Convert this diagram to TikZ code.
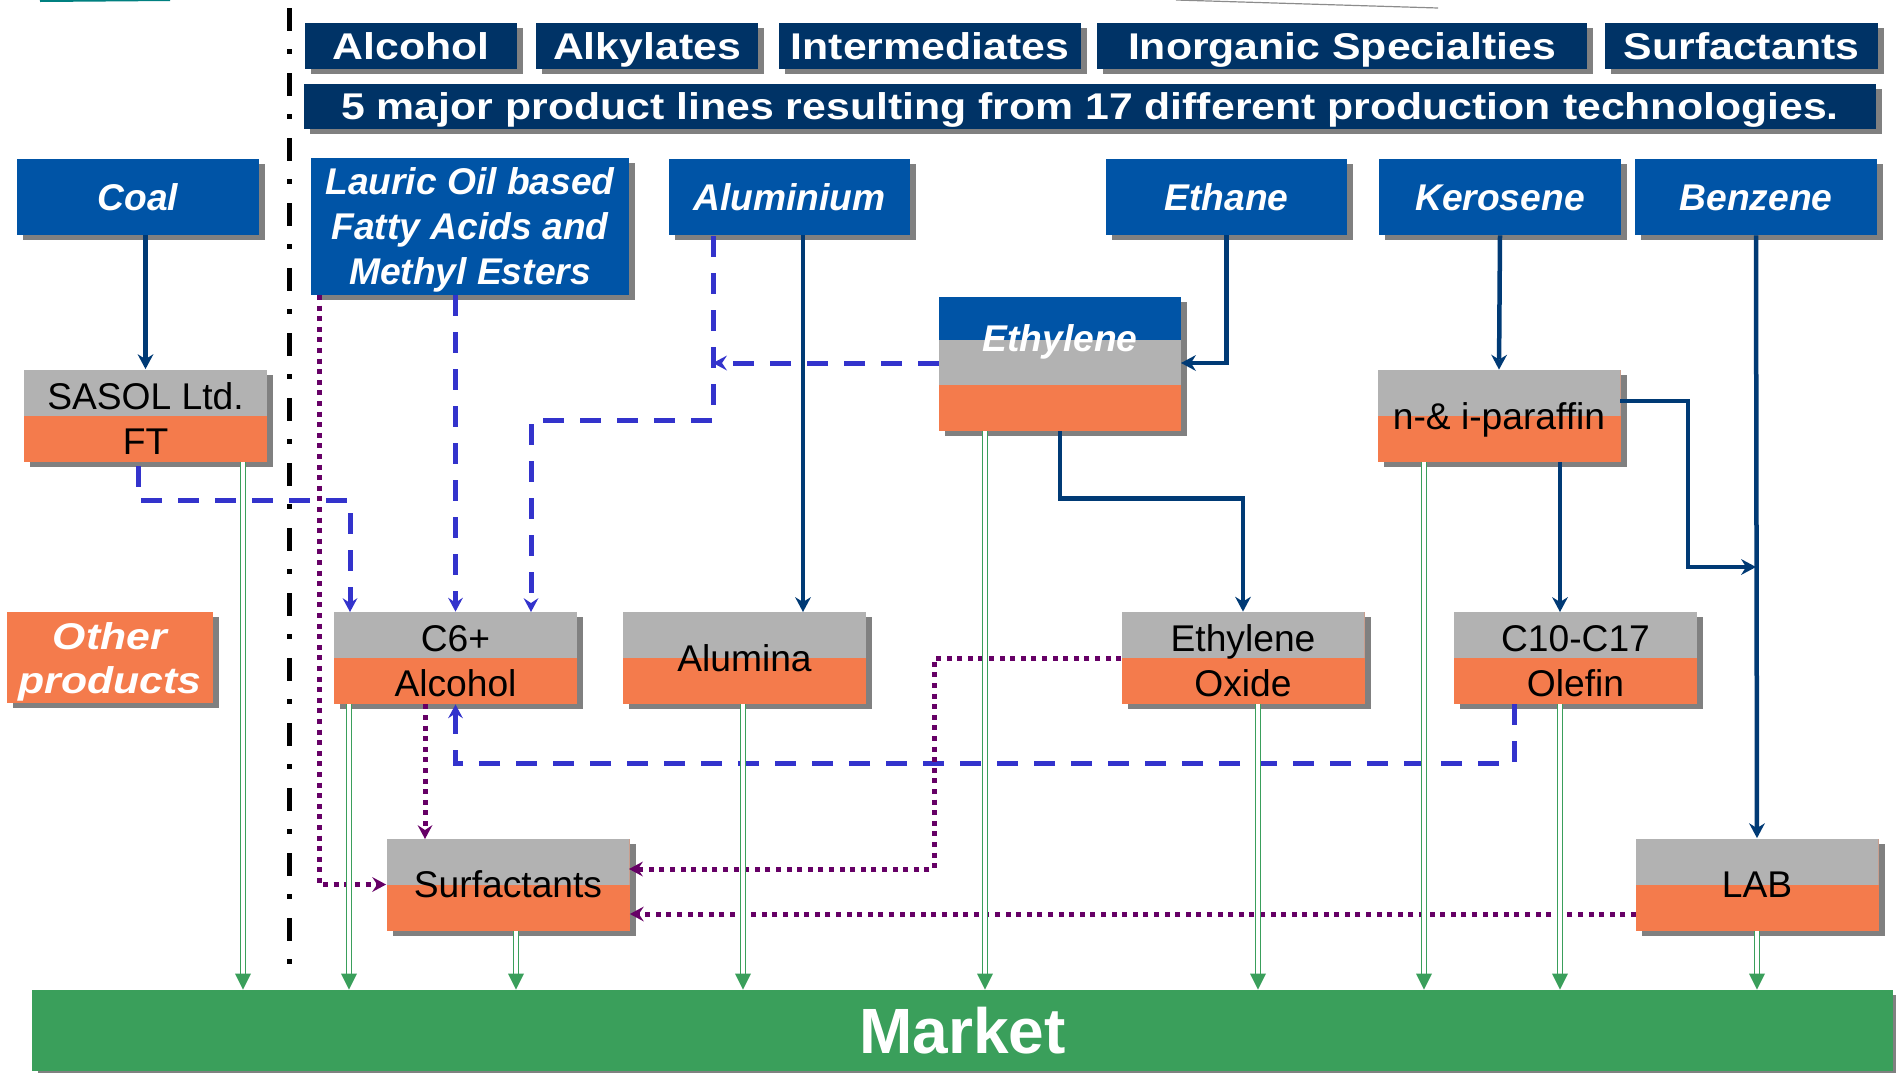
\documentclass[tikz,border=0pt]{standalone}
\usepackage{fontspec}
\setmainfont{Liberation Sans}
\newfontfamily\widesf{Liberation Sans}[FakeStretch=1.15]
\usetikzlibrary{arrows.meta,shadows}

\definecolor{hdrnavy}{HTML}{003366}
\definecolor{srcblue}{HTML}{0054A6}
\definecolor{pgray}{HTML}{B2B2B2}
\definecolor{porange}{HTML}{F47B4C}
\definecolor{mktgreen}{HTML}{3A9F5B}
\definecolor{recblue}{HTML}{3333CC}
\definecolor{surfpurple}{HTML}{660066}
\definecolor{shgray}{HTML}{808080}
\definecolor{feednavy}{HTML}{003A75}

\newcommand{\hdrfont}{\widesf\bfseries\fontsize{18.6}{22}\selectfont}
\newcommand{\srcfont}{\bfseries\itshape\fontsize{18.6}{22.5}\selectfont}
\newcommand{\prodfont}{\fontsize{18.6}{22.5}\selectfont}

\tikzset{
  shade box/.style={drop shadow={shadow xshift=3pt, shadow yshift=-2.5pt, fill=shgray, opacity=1}},
  one line/.style={text height=13.3pt, text depth=0pt},
  two lines/.style={text height=38.5pt, text depth=0pt},
  hdr/.style={shade box, fill=hdrnavy, text=white, minimum height=23pt, inner sep=0pt, one line, font=\hdrfont},
  src/.style={shade box, fill=srcblue, text=white, minimum width=121pt, minimum height=38pt, inner sep=0pt, one line, align=center, font=\srcfont},
  prod/.style={shade box, fill=porange, minimum width=121.5pt, minimum height=46pt, inner sep=0pt, one line, align=center, font=\prodfont,
    path picture={\fill[pgray] (path picture bounding box.north west) rectangle (path picture bounding box.east);}},
  feed/.style={draw=feednavy, line width=2.25pt, -{Stealth[length=7.5pt,width=8pt,inset=2.5pt,line width=0pt]}},
  recyc/.style={draw=recblue, line width=2.5pt, dash pattern=on 10.5pt off 8pt, -{Stealth[length=7pt,width=7.5pt,inset=2.5pt,line width=0pt]}},
  surfl/.style={draw=surfpurple, line width=2.5pt, dash pattern=on 2.5pt off 2.8pt, -{Stealth[length=7pt,width=7.5pt,inset=2.5pt,line width=0pt]}},
  tomkt/.style={draw=mktgreen, double=white, double distance=1.6pt, line width=0.8pt, -{Triangle[length=8pt,width=8pt,line width=0pt]}},
  divider/.style={line width=2.5pt, dash pattern=on 11.5pt off 9pt on 2.5pt off 9.5pt}
}

\begin{document}
\begin{tikzpicture}[x=0.5pt,y=-0.5pt]
  \useasboundingbox (0,0) rectangle (1896,1072);

  \draw[color=teal, line width=1pt] (40,1) -- (170,0);
  \draw[color=black!45, line width=0.6pt] (1176,0) -- (1438,8);

  \node[hdr, minimum width=106pt] (hAlc) at (411,46) {Alcohol};
  \node[hdr, minimum width=111pt] (hAlk) at (647,46) {Alkylates};
  \node[hdr, minimum width=151pt] (hInt) at (930,46) {Intermediates};
  \node[hdr, minimum width=245pt] (hInorg) at (1342,46) {Inorganic Specialties};
  \node[hdr, minimum width=136.5pt] (hSurf) at (1741.5,46) {Surfactants};
  \node[hdr, minimum width=786pt, minimum height=22.5pt] (banner) at (1090,106)
    {5 major product lines resulting from 17 different production technologies.};

  \draw[divider] (289,8) -- (289,979);

  \node[src] (coal) at (138,197) {Coal};
  \node[src, minimum width=159pt, minimum height=68.5pt, text height=58.3pt] (lauric) at (470,226.5) {Lauric Oil based\\Fatty Acids and\\Methyl Esters};
  \node[src, minimum width=120.5pt] (alu) at (789.5,197) {Aluminium};
  \node[src, minimum width=120.5pt] (ethane) at (1226.5,197) {Ethane};
  \node[src] (kero) at (1500,197) {Kerosene};
  \node[src] (benz) at (1756,197) {Benzene};

  \node[prod, minimum width=121pt, minimum height=67pt,
    path picture={
      \fill[pgray] (path picture bounding box.north west) rectangle ([yshift=-10.5pt]path picture bounding box.east);
      \fill[srcblue] (path picture bounding box.north west) rectangle ([yshift=12pt]path picture bounding box.east);},
    label={[text=white, font=\srcfont, one line, inner sep=0pt, yshift=12.75pt]center:Ethylene}] (ethylene) at (1060,364) {};

  \node[prod, two lines] (sasol) at (145.5,415.5) {SASOL Ltd.\\FT};
  \node[prod] (paraffin) at (1499,416) {n-\& i-paraffin};

  \node[shade box, fill=porange, text=white, minimum width=103pt, minimum height=45.5pt, inner sep=0pt, align=center,
    text height=35.8pt, text depth=0pt, font=\widesf\bfseries\itshape\fontsize{18.6}{22}\selectfont] (other) at (110,657.5) {Other\\products};
  \node[prod, two lines] (c6) at (455.5,658) {C6+\\Alcohol};
  \node[prod] (alumina) at (744.5,658) {Alumina};
  \node[prod, two lines] (eo) at (1243,658) {Ethylene\\Oxide};
  \node[prod, two lines] (olefin) at (1575.5,658) {C10-C17\\Olefin};

  \node[prod] (surf) at (508,884.5) {Surfactants};
  \node[prod] (lab) at (1757,884.5) {LAB};

  \node[shade box, fill=mktgreen, text=white, minimum width=930.5pt, minimum height=40.5pt, inner sep=0pt,
    text height=23pt, text depth=0pt, font=\bfseries\fontsize{32}{36}\selectfont] (market) at (962.5,1030.5) {Market};

  \coordinate (alumina-in) at (803,612);
  \coordinate (eth-in) at (1181,363);
  \coordinate (olefin-in) at (1560,612);
  \coordinate (par-out) at (1620,401);
  \coordinate (lab-join) at (1756,567);

  \draw[feed] (coal.south -| sasol.north) -- (sasol.north);
  \draw[feed] (alu.south -| alumina-in) -- (alumina-in);
  \draw[feed] (ethane.south) |- (eth-in);
  \draw[feed] (kero.south) -- (paraffin.north);
  \draw[feed] (benz.south) -- (lab.north);
  \draw[feed] (ethylene.south) -- ++(0,67) -| (eo.north);
  \draw[feed] (paraffin.south -| olefin-in) -- (olefin-in);
  \draw[feed] (par-out) -- ++(68,0) |- (lab-join);

  \coordinate (sasol-out) at (138,466);
  \coordinate (c6-in1) at (350,612);
  \coordinate (alu-out) at (713,236);
  \coordinate (c6-in3) at (531,612);
  \coordinate (ethy-out) at (939,363);
  \coordinate (olefin-out) at (1514,704);

  \draw[recyc] (sasol-out) -- ++(0,34) -| (c6-in1);
  \draw[recyc] (lauric.south -| c6.north) -- (c6.north);
  \draw[recyc] (alu-out) -- ++(0,184) -| (c6-in3);
  \draw[recyc] (ethy-out) -- (ethy-out -| alu-out);
  \draw[recyc] (olefin-out) -- ++(0,59) -| (c6.south);

  \coordinate (lauric-out) at (319,295);
  \coordinate (surf-in) at (425,839);
  \coordinate (surf-in2) at (629,869);
  \coordinate (lab-out) at (1636,914);

  \draw[surfl] (lauric-out) |- (surf.west);
  \draw[surfl] (c6.south -| surf-in) -- (surf-in);
  \draw[surfl] (eo.west) -- ++(-187,0) |- (surf-in2);
  \draw[surfl] (lab-out) -- (lab-out -| surf.east);

  \foreach \n/\x in {sasol/243, c6/349, surf/516, alumina/743, ethylene/985, eo/1258, paraffin/1424, olefin/1560, lab/1757}
    \draw[tomkt] (\x,0 |- \n.south) -- (\x,0 |- market.north);
\end{tikzpicture}
\end{document}
